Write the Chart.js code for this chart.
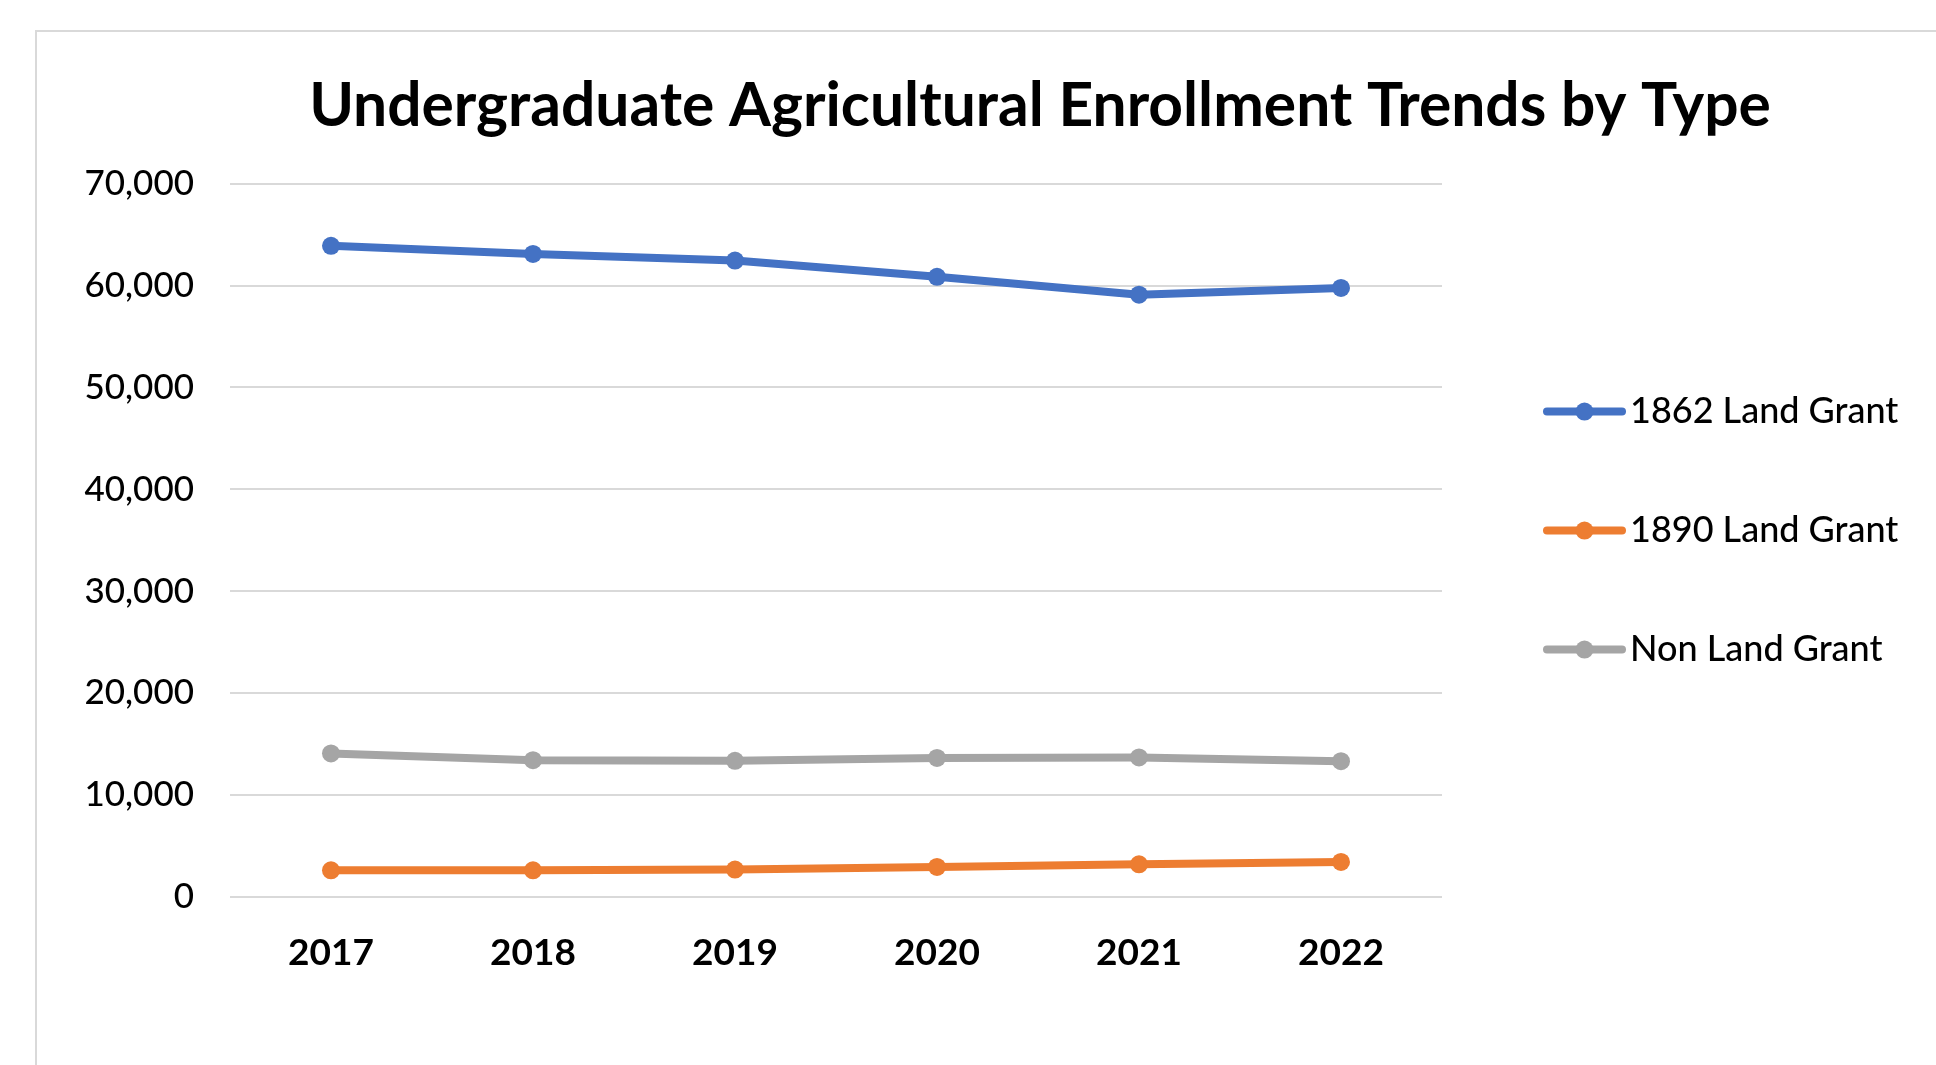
<!DOCTYPE html>
<html>
<head>
<meta charset="utf-8">
<title>Undergraduate Agricultural Enrollment Trends by Type</title>
<script src="https://cdn.jsdelivr.net/npm/chart.js@4.4.1/dist/chart.umd.min.js"></script>
<style>
  html, body { margin: 0; padding: 0; background: #fff; overflow: hidden; width: 1936px; height: 1065px; }
  #frame { position: absolute; left: 35px; top: 30px; border-left: 2px solid #d9d9d9; border-top: 2px solid #d9d9d9; background: #fff; }
  canvas { display: block; }
</style>
</head>
<body>
<div id="frame"><canvas id="chart" width="2006" height="1040"></canvas></div>
<script>
// Enrollment by institution type, 2017–2022
const years = ['2017', '2018', '2019', '2020', '2021', '2022'];
const landGrant1862 = [63900, 63100, 62450, 60850, 59100, 59760];
const landGrant1890 = [2620, 2620, 2690, 2950, 3210, 3440];
const nonLandGrant = [14090, 13430, 13360, 13650, 13690, 13330];
const seriesNames = ['1862 Land Grant', '1890 Land Grant', 'Non Land Grant'];
const yMin = 0, yMax = 70000, yStep = 10000;

const FONT = 'Lato';
const COLORS = ['#4472C4', '#ED7D31', '#A5A5A5'];

function series(label, data, color) {
  return {
    label, data,
    yAxisID: 'y',
    borderColor: color,
    backgroundColor: color,
    borderWidth: 8,
    borderCapStyle: 'round',
    borderJoinStyle: 'round',
    pointRadius: 9,
    pointHoverRadius: 9,
    pointBorderWidth: 0,
    pointBackgroundColor: color,
    tension: 0,
    fill: false
  };
}

// Legend drawn to the right of the plot: line + dot swatch followed by the name
const sideLegend = {
  id: 'sideLegend',
  afterDraw(chart) {
    const { ctx, chartArea } = chart;
    const x0 = chartArea.right + 105;
    const x1 = chartArea.right + 180;
    const firstRow = chartArea.top + 228;
    const rowGap = 119;
    chart.data.datasets.forEach((ds, i) => {
      const y = firstRow + i * rowGap;
      ctx.save();
      ctx.strokeStyle = ds.borderColor;
      ctx.lineWidth = ds.borderWidth;
      ctx.lineCap = 'round';
      ctx.beginPath();
      ctx.moveTo(x0, y);
      ctx.lineTo(x1, y);
      ctx.stroke();
      ctx.fillStyle = ds.borderColor;
      ctx.beginPath();
      ctx.arc((x0 + x1) / 2, y, ds.pointRadius, 0, Math.PI * 2);
      ctx.fill();
      ctx.font = '500 36px ' + FONT;
      ctx.fillStyle = '#000';
      ctx.textBaseline = 'middle';
      ctx.textAlign = 'left';
      ctx.fillText(ds.label, x1 + 8, y);
      ctx.restore();
    });
  }
};

new Chart(document.getElementById('chart'), {
  type: 'line',
  data: {
    labels: years,
    datasets: [
      series(seriesNames[0], landGrant1862, COLORS[0]),
      series(seriesNames[1], landGrant1890, COLORS[1]),
      series(seriesNames[2], nonLandGrant, COLORS[2])
    ]
  },
  options: {
    responsive: false,
    animation: false,
    events: [],
    layout: { padding: { left: 0, right: 0, top: 0, bottom: 75 } },
    plugins: {
      legend: { display: false },
      tooltip: { enabled: false },
      title: {
        display: true,
        text: 'Undergraduate Agricultural Enrollment Trends by Type',
        color: '#000',
        font: { family: FONT, size: 60.5, weight: 'bold', lineHeight: 1.2 },
        padding: { top: 38, bottom: 41 }
      }
    },
    scales: {
      x: {
        offset: true,
        grid: { display: false, drawTicks: false },
        border: { display: false },
        ticks: { color: '#000', font: { family: FONT, size: 37, weight: 'bold' }, padding: 34, maxRotation: 0 },
        afterFit(scale) { scale.height = 100; }
      },
      y: {
        min: yMin,
        max: yMax,
        grid: { color: '#d9d9d9', lineWidth: 2, drawTicks: false },
        border: { display: false },
        ticks: {
          stepSize: yStep,
          color: '#000',
          font: { family: FONT, size: 35, weight: 500 },
          padding: 36,
          callback: v => v.toLocaleString('en-US')
        },
        afterFit(scale) { scale.width = 193; }
      },
      // blank right-hand gutter that holds the legend
      gutter: {
        position: 'right',
        grid: { display: false, drawTicks: false },
        border: { display: false },
        ticks: { display: false },
        afterFit(scale) { scale.width = 601; }
      }
    }
  },
  plugins: [sideLegend]
});
</script>
</body>
</html>
